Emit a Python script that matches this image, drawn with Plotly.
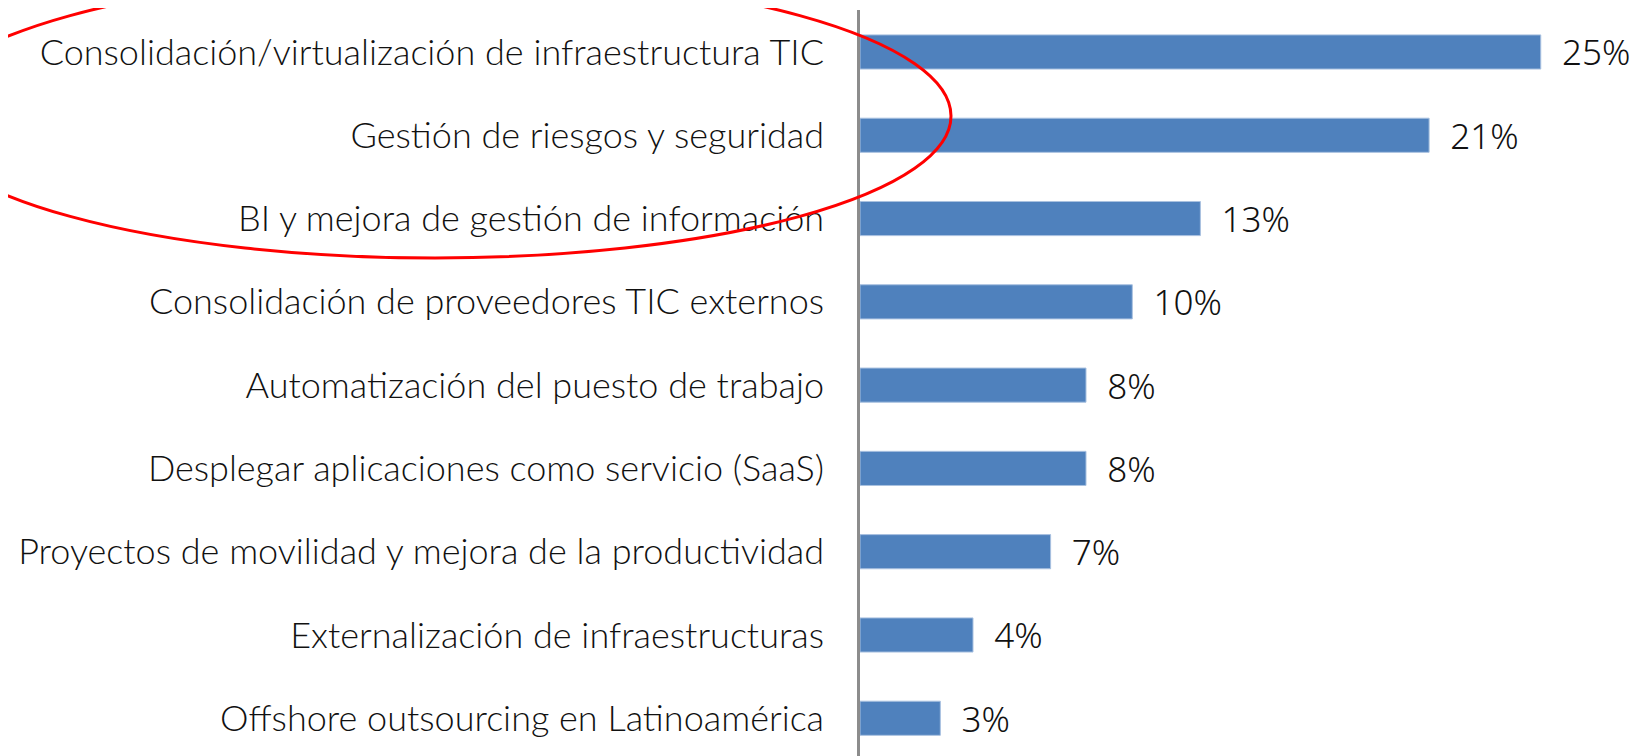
import plotly.graph_objects as go

categories = [
    "Consolidación/virtualización de infraestructura TIC",
    "Gestión de riesgos y seguridad",
    "BI y mejora de gestión de información",
    "Consolidación de proveedores TIC externos",
    "Automatización del puesto de trabajo",
    "Desplegar aplicaciones como servicio (SaaS)",
    "Proyectos de movilidad y mejora de la productividad",
    "Externalización de infraestructuras",
    "Offshore outsourcing en Latinoamérica",
]
values = [25, 20.9, 12.5, 10, 8.3, 8.3, 7, 4.15, 2.95]

OFF = 8  # default page body margin
W, H = 1646 - OFF, 756 - OFF
L, R, T, B = 860 - OFF, 40, 10 - OFF, 0
pw, ph = W - L - R, H - T - B
px_per_unit = 27.23

FONT = "Lato, Roboto, sans-serif"
VFONT = "Noto Sans, DejaVu Sans, sans-serif"

fig = go.Figure(go.Bar(
    x=values, y=categories, orientation="h",
    marker=dict(color="#4F81BD", line=dict(color="#A9C1E0", width=1)),
    width=0.41,
    text=values,
    texttemplate="\u00a0\u00a0%{x:.0f}%",
    textposition="outside",
    constraintext="none",
    textfont=dict(family=VFONT, size=35, color="#111111", weight=300),
    cliponaxis=False,
))

# ellipse (page pixel geometry -> paper)
def xp(px):
    return (px - OFF - L) / pw
def yp(py):
    return (H - B - (py - OFF)) / ph

cx, cy, rx, ry = 435, 116, 516, 142
fig.add_shape(type="circle", xref="paper", yref="paper",
              x0=xp(cx - rx), x1=xp(cx + rx), y0=yp(cy + ry), y1=yp(cy - ry),
              line=dict(color="#FF0000", width=3), layer="above")

fig.update_layout(
    width=W, height=H,
    margin=dict(l=L, r=R, t=T, b=B, autoexpand=False),
    plot_bgcolor="white", paper_bgcolor="white",
    showlegend=False,
    xaxis=dict(range=[0, pw / px_per_unit], visible=False, showgrid=False, zeroline=False,
               automargin=False),
    yaxis=dict(
        categoryorder="array", categoryarray=categories,
        range=[8.453, -0.504],
        automargin=False,
        showline=True, linecolor="#8C8C8C", linewidth=2.5,
        showgrid=False, zeroline=False, ticks="",
        ticklabelstandoff=26,
        tickfont=dict(family=FONT, size=36, color="#111111", weight=300),
    ),
)

fig.write_html("out.html")
